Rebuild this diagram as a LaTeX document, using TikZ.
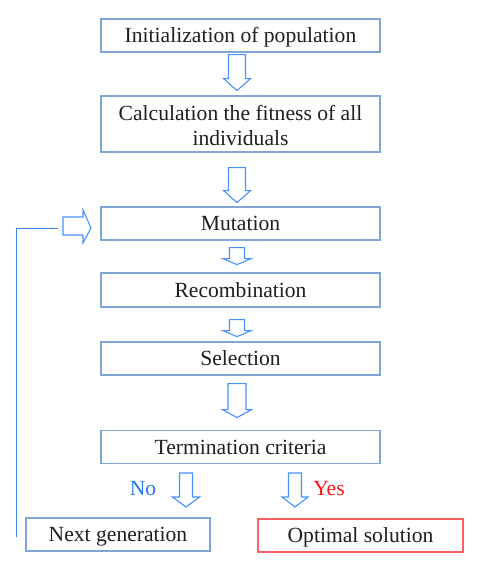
\documentclass[tikz,border=0pt]{standalone}
\usepackage{fontspec}
\setmainfont{Liberation Serif}
\usetikzlibrary{calc}
\definecolor{boxblue}{RGB}{128,166,214}
\definecolor{arrblue}{RGB}{70,145,255}
\definecolor{lineblue}{RGB}{60,135,235}
\definecolor{notext}{RGB}{35,120,255}
\definecolor{yestext}{RGB}{250,20,20}
\definecolor{optred}{RGB}{255,95,95}
\tikzset{
  stepbox/.style={draw=boxblue, line width=1.2pt, minimum height=33pt, inner sep=0pt,
    font=\fontsize{21.6}{25}\selectfont, align=center, text=black!88},
  oneline/.style={text height=19pt, text depth=5pt},
  arrline/.style={draw=arrblue, line width=1.1pt, line join=miter},
  pics/dnarr/.style args={#1/#2/#3/#4}{code={
    \draw[arrline] (-#1,0) -- (#1,0) -- (#1,#3) -- (#2,#3) -- (0,#4) -- (-#2,#3) -- (-#1,#3) -- cycle;
  }},
}
\begin{document}
\begin{tikzpicture}[x=1pt,y=-1pt]
\useasboundingbox (0,0) rectangle (480,569);
\node[stepbox, oneline, minimum width=279pt] (init) at (240.5,35.5) {Initialization of population};
\node[stepbox, minimum width=279pt, minimum height=56pt] (fit) at (240.5,124) {\rule{0pt}{18pt}Calculation the fitness of all\\individuals};
\node[stepbox, oneline, minimum width=279pt] (mut) at (240.5,223.5) {Mutation};
\node[stepbox, oneline, minimum width=279pt, minimum height=34pt] (rec) at (240.5,290) {Recombination};
\node[stepbox, oneline, minimum width=279pt] (sel) at (240.5,358.5) {Selection};
\node[stepbox, oneline, minimum width=279pt] (term) at (240.5,447) {Termination criteria};
\node[stepbox, oneline, minimum width=184pt] (next) at (118,534.5) {Next generation};
\node[stepbox, oneline, draw=optred, minimum width=205pt] (opt) at (360.5,535.5) {Optimal solution};

\node[font=\fontsize{21.6}{25}\selectfont, text=notext, inner sep=0pt] (no) at (143,489) {No};
\node[font=\fontsize{21.6}{25}\selectfont, text=yestext, inner sep=0pt] (yes) at (329,489) {Yes};

% block arrows between steps
\pic at ($(init.south)+(-3.5,2)$) {dnarr={8.5/13.5/24/36}};
\pic at ($(fit.south)+(-3.5,15)$) {dnarr={8.5/13.5/23/35}};
\pic at ($(mut.south)+(-3.5,7)$) {dnarr={7.5/14/11/17}};
\pic at ($(rec.south)+(-3.5,12)$) {dnarr={7.5/14/11/17}};
\pic at ($(sel.south)+(-3.5,8)$) {dnarr={9/14.5/26/34}};
\pic at (186,473) {dnarr={6.5/13.5/24/34}};
\pic at (295,473) {dnarr={6.5/13/24/34}};

% feedback loop
\coordinate (fbstart) at ($(next.west)+(-9,2.5)$);
\coordinate (fbend) at (58,228);
\draw[lineblue, line width=1pt] (fbstart) |- (fbend);
\draw[arrline] (63,217) -- (83,217) -- (83,210) -- (91,228) -- (83,243) -- (83,235) -- (63,235) -- cycle;
\end{tikzpicture}
\end{document}
